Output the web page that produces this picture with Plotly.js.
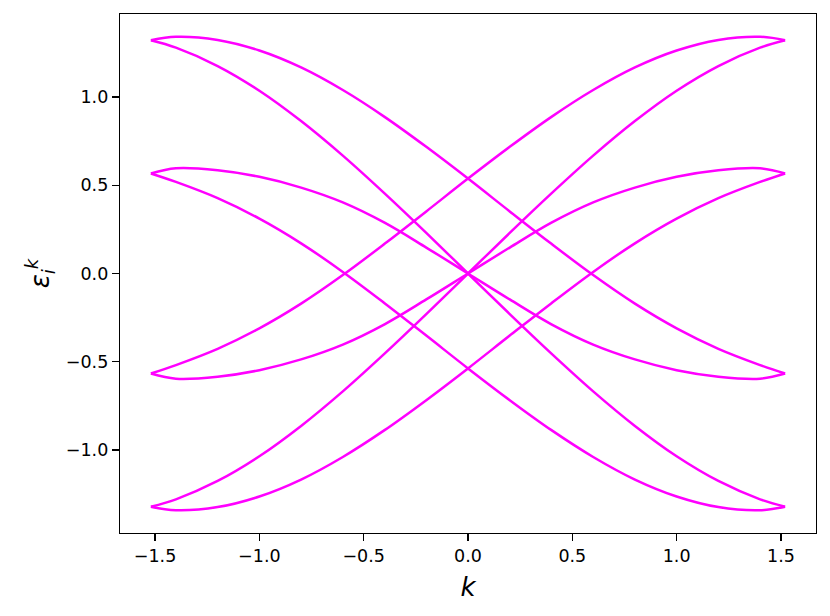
<!DOCTYPE html>
<html>
<head>
<meta charset="utf-8">
<script src="https://cdn.plot.ly/plotly-3.0.1.min.js"></script>
<style>
  body { margin: 0; background: #fff; }
  #plot { width: 830px; height: 616px; }
</style>
</head>
<body>
<div id="plot"></div>
<script>
// k grid shared by all bands
var k = [-1.52, -1.4, -1.2, -1.0, -0.8, -0.6, -0.4, -0.2, 0, 0.2, 0.4, 0.6, 0.8, 1.0, 1.2, 1.4, 1.52];

// bands
var band1 = [1.322, 1.342, 1.324, 1.264, 1.168, 1.04, 0.888, 0.718, 0.538, 0.352, 0.168, -0.009, -0.171, -0.311, -0.427, -0.519, -0.567];
var band2 = [-0.567, -0.519, -0.427, -0.311, -0.171, -0.009, 0.168, 0.352, 0.538, 0.718, 0.888, 1.04, 1.168, 1.264, 1.324, 1.342, 1.322];
var band3 = [-1.322, -1.342, -1.324, -1.264, -1.168, -1.04, -0.888, -0.718, -0.538, -0.352, -0.168, 0.009, 0.171, 0.311, 0.427, 0.519, 0.567];
var band4 = [0.567, 0.519, 0.427, 0.311, 0.171, 0.009, -0.168, -0.352, -0.538, -0.718, -0.888, -1.04, -1.168, -1.264, -1.324, -1.342, -1.322];
var band5 = [1.322, 1.28, 1.176, 1.036, 0.864, 0.668, 0.454, 0.23, 0, -0.23, -0.454, -0.668, -0.864, -1.036, -1.176, -1.28, -1.322];
var band6 = [-1.322, -1.28, -1.176, -1.036, -0.864, -0.668, -0.454, -0.23, 0, 0.23, 0.454, 0.668, 0.864, 1.036, 1.176, 1.28, 1.322];
var band7 = [0.567, 0.596, 0.585, 0.548, 0.487, 0.403, 0.288, 0.147, 0, -0.147, -0.288, -0.403, -0.487, -0.548, -0.585, -0.596, -0.567];
var band8 = [-0.567, -0.596, -0.585, -0.548, -0.487, -0.403, -0.288, -0.147, 0, 0.147, 0.288, 0.403, 0.487, 0.548, 0.585, 0.596, 0.567];

var xTicks = [-1.5, -1.0, -0.5, 0.0, 0.5, 1.0, 1.5];
var xTickText = ["\u22121.5", "\u22121.0", "\u22120.5", "0.0", "0.5", "1.0", "1.5"];
var yTicks = [-1.0, -0.5, 0.0, 0.5, 1.0];
var yTickText = ["\u22121.0", "\u22120.5", "0.0", "0.5", "1.0"];

var bands = [band1, band2, band3, band4, band5, band6, band7, band8];
var data = bands.map(function (b) {
  return {
    x: k,
    y: b,
    mode: "lines",
    line: { color: "#ff00ff", width: 2.5, shape: "spline", smoothing: 1 },
    hoverinfo: "skip"
  };
});

var axisStyle = {
  showgrid: false,
  zeroline: false,
  showline: true,
  linecolor: "#000",
  linewidth: 1.2,
  mirror: true,
  ticks: "outside",
  ticklen: 7,
  tickwidth: 1.2,
  tickcolor: "#000",
  tickfont: { family: "DejaVu Sans", size: 17.5, color: "#000" }
};

var layout = {
  width: 830,
  height: 616,
  showlegend: false,
  paper_bgcolor: "#fff",
  plot_bgcolor: "#fff",
  margin: { l: 120, r: 14, t: 14, b: 83 },
  font: { family: "DejaVu Sans", color: "#000" },
  xaxis: Object.assign({}, axisStyle, {
    range: [-1.668, 1.668],
    tickvals: xTicks,
    ticktext: xTickText,
    title: { text: "<i>k</i>", font: { family: "DejaVu Sans", size: 26 }, standoff: 12 }
  }),
  yaxis: Object.assign({}, axisStyle, {
    range: [-1.471, 1.471],
    tickvals: yTicks,
    ticktext: yTickText,
    title: { text: "<i>ε</i><sub><i>i</i></sub><sup><i>k</i></sup>", font: { family: "DejaVu Sans", size: 26 }, standoff: 8 }
  })
};

Plotly.newPlot("plot", data, layout, { displayModeBar: false, staticPlot: true });
</script>
</body>
</html>
